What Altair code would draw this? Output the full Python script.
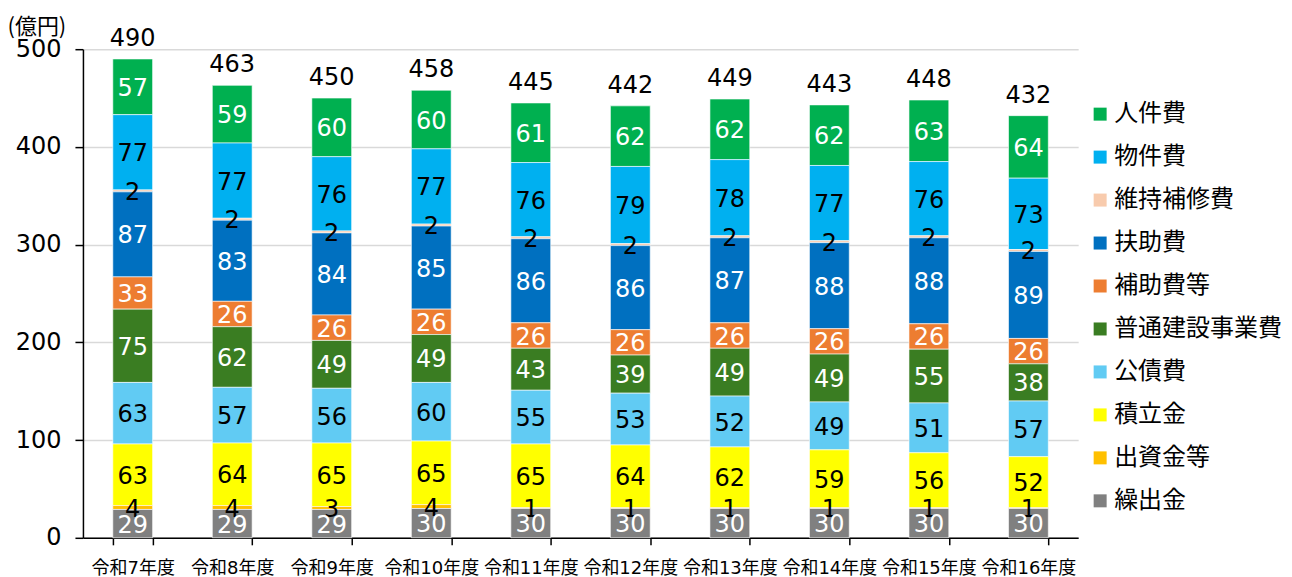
import altair as alt
import pandas as pd

years = ["令和7年度", "令和8年度", "令和9年度", "令和10年度", "令和11年度",
         "令和12年度", "令和13年度", "令和14年度", "令和15年度", "令和16年度"]

# legend order (top to bottom) == stack order (top to bottom)
categories = ["人件費", "物件費", "維持補修費", "扶助費", "補助費等",
              "普通建設事業費", "公債費", "積立金", "出資金等", "繰出金"]
colors = ["#00B050", "#00B0F0", "#F8CBAD", "#0070C0", "#ED7D31",
          "#3A7D22", "#61CBF3", "#FFFF00", "#FFC000", "#808080"]

jinkenhi   = [57, 59, 60, 60, 61, 62, 62, 62, 63, 64]
bukkenhi   = [77, 77, 76, 77, 76, 79, 78, 77, 76, 73]
ijihoshu   = [2, 2, 2, 2, 2, 2, 2, 2, 2, 2]
fujohi     = [87, 83, 84, 85, 86, 86, 87, 88, 88, 89]
hojohi     = [33, 26, 26, 26, 26, 26, 26, 26, 26, 26]
futsuken   = [75, 62, 49, 49, 43, 39, 49, 49, 55, 38]
kousaihi   = [63, 57, 56, 60, 55, 53, 52, 49, 51, 57]
tsumitate  = [63, 64, 65, 65, 65, 64, 62, 59, 56, 52]
shusshi    = [4, 4, 3, 4, 1, 1, 1, 1, 1, 1]
kuridashi  = [29, 29, 29, 30, 30, 30, 30, 30, 30, 30]

series = [jinkenhi, bukkenhi, ijihoshu, fujohi, hojohi,
          futsuken, kousaihi, tsumitate, shusshi, kuridashi]

white_text = ["人件費", "扶助費", "補助費等", "普通建設事業費", "繰出金"]

rows = []
n = len(categories)
for ci, (cat, vals) in enumerate(zip(categories, series)):
    for y, v in zip(years, vals):
        rows.append({"year": y, "cat": cat, "value": v, "order": n - 1 - ci})
df = pd.DataFrame(rows)

NUM_FONT = "DejaVu Sans, Noto Sans CJK JP"

xenc = alt.X("year:N", sort=years,
             scale=alt.Scale(paddingInner=0.6, paddingOuter=0.3),
             axis=alt.Axis(title=None, labelAngle=0, labelFontSize=18,
                           labelColor="black", labelFont=NUM_FONT,
                           tickBand="extent", tickSize=7, tickColor="black",
                           tickWidth=1.5, domainColor="black", domainWidth=1.5,
                           labelPadding=15, labelLimit=200, grid=False))

base = alt.Chart(df)

bars = base.mark_bar(stroke="white", strokeWidth=0.6).encode(
    x=xenc,
    y=alt.Y("value:Q", stack="zero",
            scale=alt.Scale(domain=[0, 500], nice=False),
            axis=alt.Axis(title="(億円)", titleAngle=0, titleX=-76, titleY=-23,
                          titleAlign="left", titleBaseline="middle",
                          titleFontSize=22, titleFontWeight="normal",
                          titleFont="Noto Sans CJK JP", titleColor="black",
                          values=[0, 100, 200, 300, 400, 500],
                          labelFontSize=24, labelFont=NUM_FONT, labelColor="black",
                          labelPadding=14, tickSize=8, tickColor="black",
                          tickWidth=1.5, domainColor="black", domainWidth=1.5,
                          grid=True, gridColor="#D9D9D9", gridWidth=1.5)),
    color=alt.Color("cat:N",
                    scale=alt.Scale(domain=categories, range=colors),
                    legend=alt.Legend(title=None, orient="none",
                                      legendX=1006, legendY=53,
                                      symbolType="square", symbolSize=169,
                                      symbolStrokeWidth=0,
                                      labelFontSize=24, labelFont="Noto Sans CJK JP",
                                      labelColor="black", labelOffset=2,
                                      labelLimit=300,
                                      rowPadding=19, padding=0)),
    order=alt.Order("order:Q", sort="ascending"),
)

labels = base.transform_stack(
    stack="value", groupby=["year"],
    sort=[alt.SortField("order", "ascending")], as_=["y0", "y1"]
).transform_calculate(
    mid="(datum.y0 + datum.y1) / 2"
).mark_text(fontSize=24, font=NUM_FONT, baseline="middle", dy=2).encode(
    x=alt.X("year:N", sort=years),
    y=alt.Y("mid:Q"),
    text=alt.Text("value:Q"),
    color=alt.condition(alt.FieldOneOfPredicate(field="cat", oneOf=white_text),
                        alt.value("white"), alt.value("black")),
)

totals = base.mark_text(fontSize=24, font=NUM_FONT, baseline="alphabetic",
                        dy=-13, color="black").encode(
    x=alt.X("year:N", sort=years),
    y=alt.Y("sum(value):Q"),
    text=alt.Text("sum(value):Q"),
)

chart = alt.layer(bars, labels, totals).properties(
    width=996, height=489,
    autosize=alt.AutoSizeParams(type="none"),
    padding={"left": 75, "top": 41, "right": 206, "bottom": 40},
).configure_view(stroke=None)

chart.save("out.html", embed_options={"renderer": "svg", "actions": False})
